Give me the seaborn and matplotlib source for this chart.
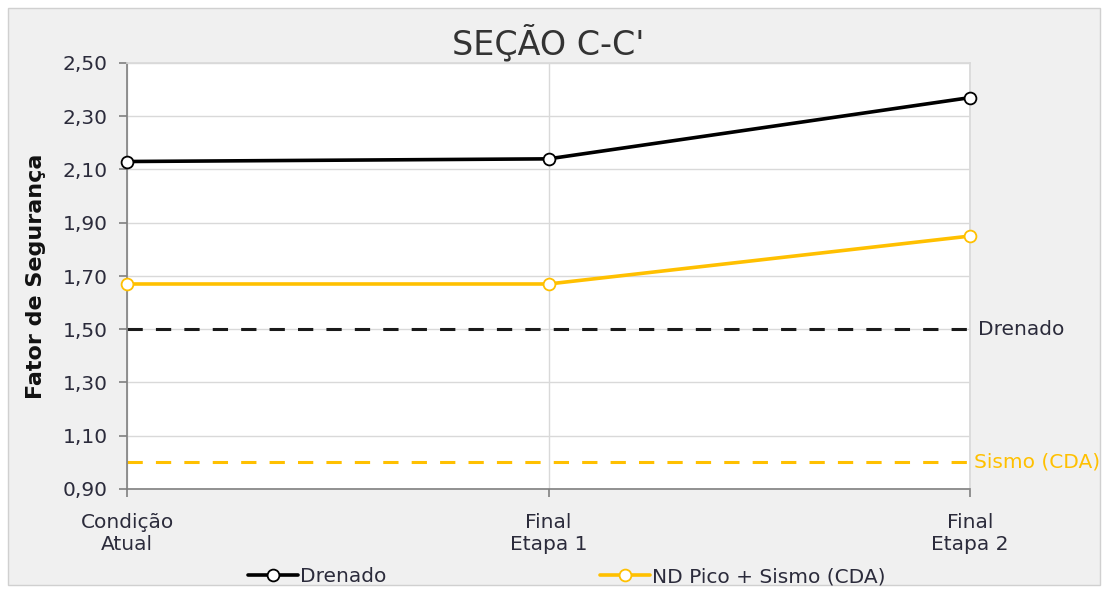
import matplotlib
matplotlib.use("Agg")
import matplotlib.pyplot as plt
import seaborn as sns
import pandas as pd
from matplotlib.patches import Rectangle
from matplotlib.lines import Line2D

# Data
stages = ["Condição\nAtual", "Final\nEtapa 1", "Final\nEtapa 2"]
drenado = [2.13, 2.14, 2.37]
nd_sismo = [1.67, 1.67, 1.85]
limite_drenado = 1.50
limite_sismo = 1.00
y_ticks = [0.90, 1.10, 1.30, 1.50, 1.70, 1.90, 2.10, 2.30, 2.50]

series_names = ["Drenado", "ND Pico + Sismo (CDA)"]
colors = {"Drenado": "#000000", "ND Pico + Sismo (CDA)": "#FFC000"}

df = pd.DataFrame({
    "Etapa": list(range(len(stages))) * 2,
    "FS": drenado + nd_sismo,
    "Série": [series_names[0]] * 3 + [series_names[1]] * 3,
})

sns.set_theme(style="white")
plt.rcParams["font.family"] = ["DejaVu Sans"]

text_color = "#2b2b3b"
fs = 14.5

fig = plt.figure(figsize=(11.07, 5.89), dpi=100, facecolor="white")
fig.patches.append(Rectangle((8 / 1107, 4 / 589), 1092 / 1107, 577 / 589,
                             transform=fig.transFigure, facecolor="#f0f0f0",
                             edgecolor="#d0d0d0", linewidth=1, zorder=-10))
ax = fig.add_axes([127 / 1107, 1 - 489 / 589, (970 - 127) / 1107, (489 - 63) / 589])
ax.set_facecolor("white")

# Reference limits
ax.axhline(limite_drenado, color="#1a1a1a", linestyle=(0, (5, 4.3)), linewidth=2.2, zorder=2)
ax.axhline(limite_sismo, color="#FFC000", linestyle=(0, (5, 4.3)), linewidth=2.2, zorder=2)

sns.lineplot(data=df, x="Etapa", y="FS", hue="Série", palette=colors,
             linewidth=2.6, marker="o", markersize=8.5, markerfacecolor="white",
             markeredgewidth=1.3, ax=ax, legend=False, zorder=3)
for line in ax.get_lines()[2:]:
    line.set_markeredgecolor(line.get_color())
    line.set_clip_on(False)

ax.set_xlim(0, 2)
ax.set_ylim(0.90, 2.50)
ax.set_xticks(range(len(stages)))
ax.set_xticklabels(stages, fontsize=fs, color=text_color, linespacing=1.2)
ax.set_yticks(y_ticks)
ax.set_yticklabels([f"{v:.2f}".replace(".", ",") for v in y_ticks],
                   fontsize=fs, color=text_color)
ax.tick_params(axis="both", direction="out", length=6, width=1.2, color="#808080",
               bottom=True, left=True)
ax.tick_params(axis="y", pad=8)
ax.tick_params(axis="x", pad=11)

ax.grid(True, color="#d9d9d9", linewidth=1)
ax.set_axisbelow(True)
for side in ["top", "right"]:
    ax.spines[side].set_color("#d9d9d9")
for side in ["left", "bottom"]:
    ax.spines[side].set_color("#808080")
    ax.spines[side].set_linewidth(1.2)

ax.set_xlabel("")
ax.set_ylabel("Fator de Segurança", fontsize=16, fontweight="bold", color="#111111", labelpad=12)
ax.set_title("SEÇÃO C-C'", fontsize=24, color="#333333", pad=6)

ax.text(1.01, limite_drenado, "Drenado", transform=ax.get_yaxis_transform(),
        va="center", ha="left", fontsize=fs, color=text_color)
ax.text(1.005, limite_sismo, "Sismo (CDA)", transform=ax.get_yaxis_transform(),
        va="center", ha="left", fontsize=fs, color="#FFC000")

# Legend
handles = [Line2D([], [], color=colors[n], linewidth=2.6, marker="o", markersize=8.5,
                  markerfacecolor="white", markeredgecolor=colors[n], markeredgewidth=1.3)
           for n in series_names]
fig.legend(handles, series_names, loc="center", bbox_to_anchor=(0.512, 1 - 577 / 589),
           ncol=2, frameon=False, fontsize=fs, handlelength=2.5, handletextpad=0.1,
           columnspacing=10.6, labelcolor=text_color)

fig.savefig("out.png", dpi=100, facecolor="white")
